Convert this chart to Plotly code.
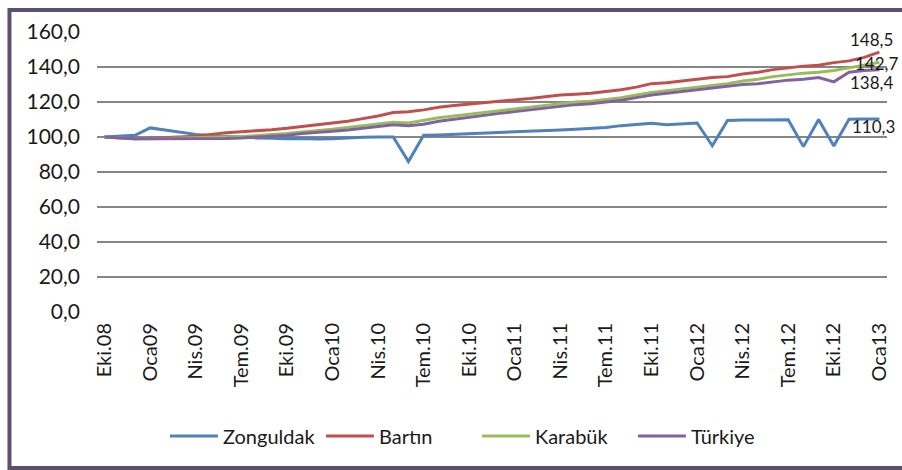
import plotly.graph_objects as go

tick_labels = ["Eki.08", "Oca09", "Nis.09", "Tem.09", "Eki.09", "Oca10", "Nis.10", "Tem.10",
               "Eki.10", "Oca11", "Nis.11", "Tem.11", "Eki.11", "Oca12", "Nis.12", "Tem.12",
               "Eki.12", "Oca13"]

# 52 monthly observations, Oct 2008 .. Jan 2013
months = list(range(52))

zonguldak = [100.0, 100.5, 101.0, 105.2, 104.0, 102.5, 101.5, 100.8, 100.3, 99.8,
             99.5, 99.3, 99.0, 99.2, 98.8, 99.0, 99.5, 99.8, 100.0, 100.0,
             86.0, 101.0, 101.2, 101.5, 102.0, 102.3, 102.5, 102.8, 103.0, 103.5,
             104.0, 104.5, 104.8, 105.5, 106.5, 107.2, 107.8, 107.0, 107.5, 108.0,
             95.0, 109.5, 109.7, 109.7, 109.8, 109.8, 94.5, 110.0, 94.8, 110.2,
             110.3, 110.3]
bartin = [100.0, 99.5, 99.0, 99.3, 99.8, 100.2, 100.5, 101.5, 102.5, 103.0,
          103.5, 104.2, 105.0, 106.0, 107.0, 108.0, 109.0, 110.5, 112.0, 114.0,
          114.5, 115.5, 117.0, 118.0, 118.8, 119.5, 120.0, 121.0, 122.0, 123.0,
          124.0, 124.5, 125.0, 126.0, 127.0, 128.5, 130.5, 131.0, 132.0, 133.0,
          134.0, 134.5, 136.0, 137.0, 138.5, 139.5, 140.5, 141.0, 142.5, 143.5,
          145.5, 148.5]
karabuk = [100.0, 99.5, 99.0, 99.0, 99.2, 99.3, 99.5, 99.8, 100.0, 100.3,
           100.8, 101.3, 102.0, 102.8, 103.5, 104.5, 105.5, 106.5, 107.5, 108.5,
           108.0, 109.5, 111.0, 112.0, 113.0, 114.0, 115.0, 116.0, 117.0, 118.0,
           119.0, 120.0, 120.5, 121.5, 122.5, 124.0, 125.5, 126.5, 127.5, 128.5,
           129.5, 130.5, 132.0, 133.0, 134.5, 135.5, 136.5, 137.0, 138.0, 139.5,
           141.0, 142.7]
turkiye = [100.0, 99.5, 99.0, 99.0, 99.0, 99.1, 99.2, 99.3, 99.2, 99.5,
           100.0, 100.4, 101.0, 102.0, 102.5, 103.3, 104.0, 105.0, 106.0, 107.0,
           106.5, 107.3, 109.0, 110.2, 111.5, 112.5, 113.5, 114.5, 115.5, 116.5,
           117.5, 118.5, 119.0, 120.0, 121.0, 122.5, 124.0, 125.0, 126.0, 127.0,
           128.0, 128.8, 130.0, 130.5, 131.5, 132.5, 133.0, 134.0, 131.5, 137.0,
           138.0, 138.4]

y_ticks = [0, 20, 40, 60, 80, 100, 120, 140, 160]

series = [("Zonguldak", zonguldak, "#4F81BD", -29, -8),
          ("Bartın", bartin, "#C0504D", -31, 13),
          ("Karabük", karabuk, "#9BBB59", -26, -1),
          ("Türkiye", turkiye, "#8064A2", -31, -13)]

FONT = "Lato"
TXT = "#1a1a1a"
fig = go.Figure()
for name, vals, col, xs, ys in series:
    fig.add_trace(go.Scatter(x=months, y=vals, mode="lines", name=name,
                             line=dict(color=col, width=3), cliponaxis=False))

for name, vals, col, xs, ys in series:
    fig.add_annotation(x=months[-1], y=vals[-1], xref="x", yref="y",
                       text=f"{vals[-1]:.1f}".replace(".", ","), showarrow=False,
                       xanchor="left", yanchor="middle", xshift=xs, yshift=ys,
                       font=dict(family=FONT, size=17, color=TXT))

fig.update_layout(
    width=902, height=470,
    margin=dict(l=97, r=15, t=32, b=158),
    paper_bgcolor="white", plot_bgcolor="white",
    font=dict(family=FONT, size=20, color=TXT),
    showlegend=True,
    legend=dict(orientation="h", x=0.086, xanchor="left", y=-0.443, yanchor="middle",
                font=dict(family=FONT, size=20, color=TXT),
                itemwidth=48, entrywidth=93, entrywidthmode="pixels",
                tracegroupgap=0, bgcolor="rgba(0,0,0,0)"),
    xaxis=dict(range=[-0.5, 51.5], tickmode="array", tickvals=months[::3], ticktext=tick_labels,
               tickangle=-90, showgrid=False, zeroline=False, showline=False, ticks="",
               ticklabelstandoff=6,
               tickfont=dict(family=FONT, size=20, color=TXT)),
    yaxis=dict(range=[0, 160], tickmode="array", tickvals=y_ticks,
               ticktext=[f"{v},0" for v in y_ticks], showgrid=True, gridcolor="#868686",
               gridwidth=1.5, zeroline=False, showline=False, ticks="", ticklen=0,
               ticklabelstandoff=16,
               tickfont=dict(family=FONT, size=21, color=TXT)),
)
fig.add_shape(type="rect", xref="paper", yref="paper",
              x0=-0.1108, x1=1.1, y0=-0.557, y1=1.0786,
              line=dict(color="#5B5070", width=4), layer="below")

fig.write_html("out.html", config={"displayModeBar": False},
               post_script="document.body.style.margin='0px';document.body.style.overflow='hidden';")
